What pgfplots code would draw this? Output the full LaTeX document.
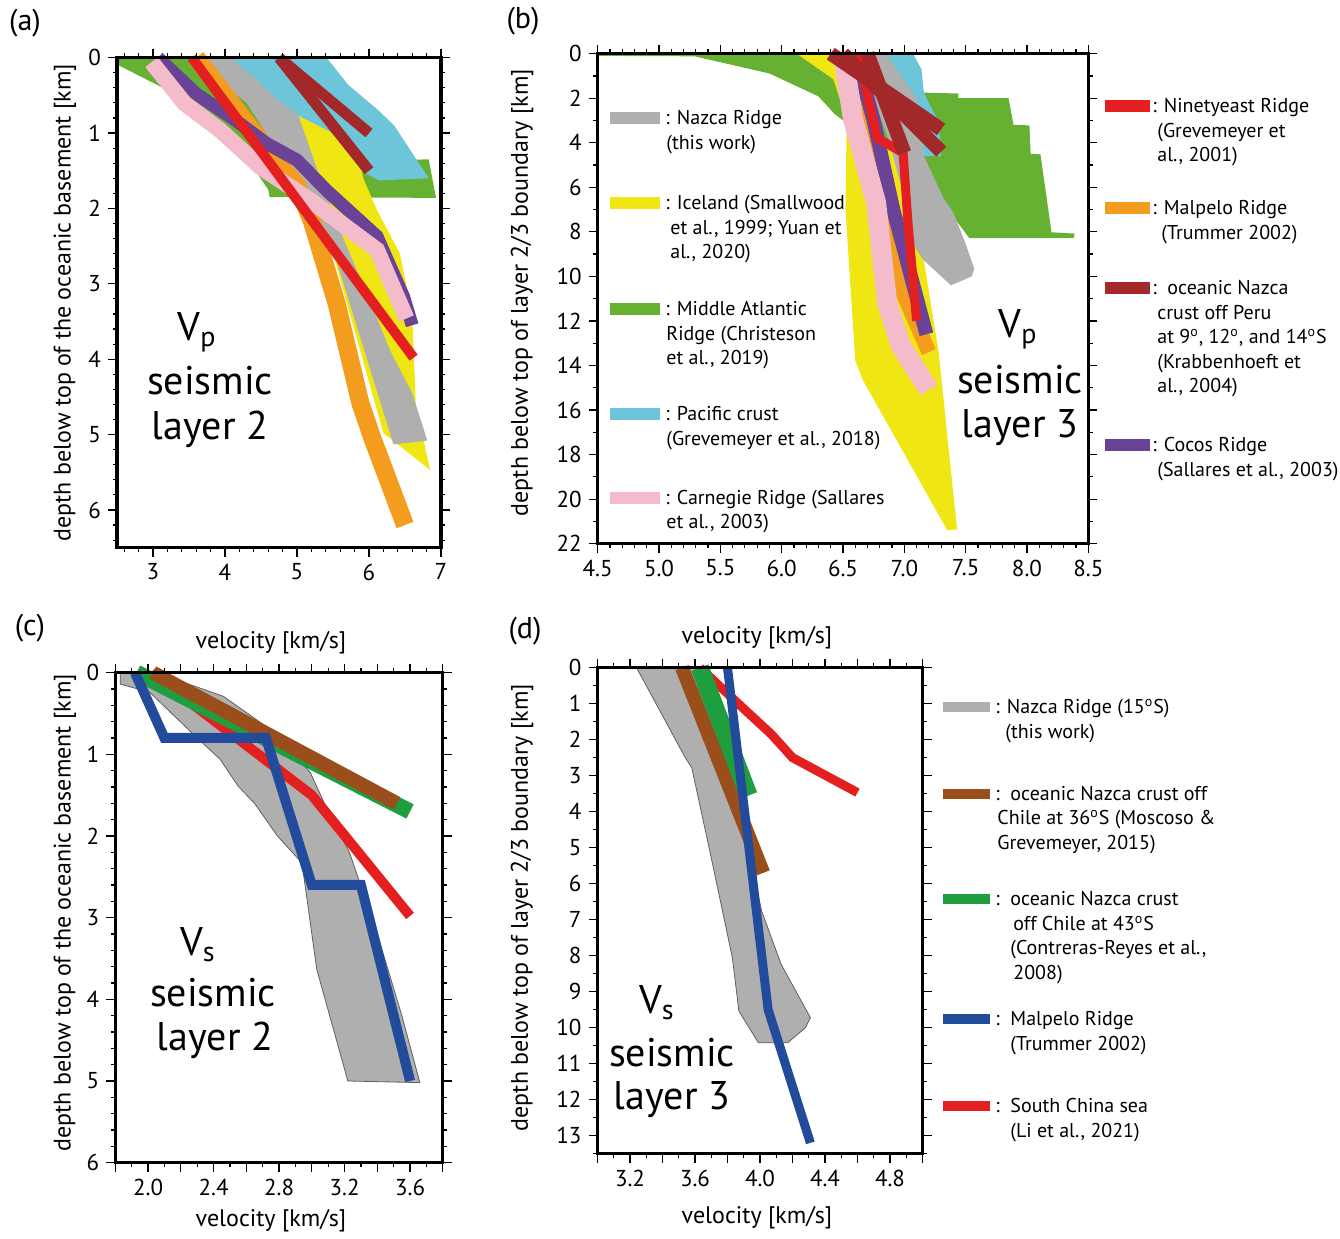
\documentclass[border=0pt]{standalone}
\usepackage{fontspec}
\setmainfont{PT Sans}
\usepackage{pgfplots}
\pgfplotsset{compat=1.18}
\definecolor{cgray}{HTML}{AFAFAF}
\definecolor{cyel}{HTML}{F0E614}
\definecolor{cgrn}{HTML}{66B032}
\definecolor{ccyan}{HTML}{6CC5D8}
\definecolor{cpink}{HTML}{F4BCCB}
\definecolor{cred}{HTML}{E3201F}
\definecolor{corg}{HTML}{F39C1E}
\definecolor{cdred}{HTML}{A2282A}
\definecolor{cpur}{HTML}{6A4397}
\definecolor{cgrn2}{HTML}{1E9E3E}
\definecolor{cbrn}{HTML}{9A4E1C}
\definecolor{cblu}{HTML}{224B9B}
\pgfplotsset{
  panel/.style={
    scale only axis, y dir=reverse, clip=false, axis on top,
    axis line style={line width=1.6pt},
    tick align=outside, major tick length=4.5pt, minor tick length=2.2pt,
    tick style={black, line width=0.6pt},
    tick label style={font=\fontsize{11.5}{12}\selectfont},
    /pgf/number format/assume math mode=true,
    anchor=north west,
  },
  band/.style={line width=#1, line cap=butt, line join=miter},
}
\newcommand\lgfont{\fontsize{10}{12}\selectfont}
\newcommand\bigfont{\fontsize{20}{24}\selectfont}
\newcommand\lt[3]{\node[anchor=base west,inner sep=0pt,font=\lgfont] at (#1,#2+7) {#3};}
\newcommand\dg{\textsuperscript{o}}
\begin{document}
\begin{tikzpicture}
% ---------------- (a)
\begin{axis}[panel, at={(58.5pt,-27.5pt)}, width=162pt, height=245pt,
  xmin=2.5, xmax=7, ymin=0, ymax=6.5,
  xtick={3,4,5,6,7}, ytick={0,1,2,3,4,5,6},
  minor xtick={2.6,2.8,3.2,3.4,3.6,3.8,4.2,4.4,4.6,4.8,5.2,5.4,5.6,5.8,6.2,6.4,6.6,6.8},
  minor ytick={0.2,0.4,0.6,0.8,1.2,1.4,1.6,1.8,2.2,2.4,2.6,2.8,3.2,3.4,3.6,3.8,4.2,4.4,4.6,4.8,5.2,5.4,5.6,5.8,6.2,6.4}]
\addplot[fill=cgrn, draw=none] coordinates {(2.5,0) (4.5,0) (5.8,1.3) (6.05,1.36) (6.83,1.35) (6.93,1.86) (4.62,1.85) (4.6,1.75) (4.1,1.05) (3.3,0.48) (2.52,0.1)} -- cycle;
\addplot[fill=cyel, draw=none] coordinates {(5.02,0.76) (5.46,0.98) (5.85,1.27) (5.92,1.6) (6.11,2.02) (6.43,2.6) (6.6,3.4) (6.65,4.6) (6.85,5.47) (6.2,4.98) (5.47,2.5) (5.2,1.8) (5.0,1.2) (4.95,0.9)} -- cycle;
\addplot[fill=ccyan, draw=none] coordinates {(4.06,0) (5.41,0) (5.71,0.36) (6.12,0.69) (6.35,0.9) (6.83,1.6) (6.14,1.63) (5.89,1.5) (5.87,1.27) (5.46,0.98) (5.02,0.77) (4.70,0.54) (4.38,0.24)} -- cycle;
\addplot[fill=cgray, draw=none] coordinates {(3.5,0) (4.06,0) (4.38,0.24) (4.70,0.54) (5.02,0.77) (5.25,1.4) (5.6,2.3) (6.0,3.2) (6.3,3.9) (6.6,4.45) (6.81,5.08) (6.34,5.13) (5.55,2.7) (5.3,2.3) (4.9,1.5) (4.3,0.6)} -- cycle;
\addplot[band=9pt, corg] coordinates {(3.6,0) (4.65,1.3) (5.0,1.7) (5.2,2.15) (5.55,3.26) (5.88,4.58) (6.04,5.03) (6.5,6.2)};
\addplot[band=6.5pt, cpur] coordinates {(3.07,0) (3.6,0.48) (4.1,0.8) (4.58,1.14) (5.0,1.36) (5.41,1.76) (6.11,2.37) (6.48,3.17) (6.6,3.55)};
\addplot[band=8pt, cpink] coordinates {(2.98,0.06) (3.44,0.61) (3.93,0.96) (4.49,1.45) (5.18,1.89) (6.11,2.55) (6.52,3.46)};
\addplot[band=5pt, cred] coordinates {(3.54,0) (6.62,3.98)};
\addplot[band=5.5pt, cdred] coordinates {(4.75,0) (6.0,1.0)};
\addplot[band=5.5pt, cdred] coordinates {(4.75,0) (6.0,1.5)};
\end{axis}
% ---------------- (b)
\begin{axis}[panel, at={(298.85pt,-25.5pt)}, width=245.3pt, height=245pt,
  xmin=4.5, xmax=8.5, ymin=0, ymax=22,
  xtick={4.5,5,5.5,6,6.5,7,7.5,8,8.5},
  xticklabels={4.5,5.0,5.5,6.0,6.5,7.0,7.5,8.0,8.5},
  minor xtick={4.6,4.7,4.8,4.9,5.1,5.2,5.3,5.4,5.6,5.7,5.8,5.9,6.1,6.2,6.3,6.4,6.6,6.7,6.8,6.9,7.1,7.2,7.3,7.4,7.6,7.7,7.8,7.9,8.1,8.2,8.3,8.4},
  ytick={0,2,4,6,8,10,12,14,16,18,20,22},
  minor ytick={1,3,5,7,9,11,13,15,17,19,21}]
\addplot[fill=cyel, draw=none] coordinates {(6.05,0) (6.5,0) (6.75,2.0) (7.0,6.0) (7.14,8.63) (7.28,13.4) (7.43,21.36) (7.35,21.4) (6.66,14.64) (6.6,13.78) (6.52,7.0) (6.53,3.0) (6.42,1.15) (6.12,0.03)} -- cycle;
\addplot[fill=cgrn, draw=none] coordinates {(4.5,0) (6.12,0) (6.42,1.15) (6.53,2.95) (6.9,1.75) (7.16,1.75) (7.44,1.79) (7.44,2.0) (7.85,2.0) (7.89,3.2) (8.02,3.22) (8.03,4.5) (8.11,4.52) (8.2,8.02) (8.39,8.08) (8.38,8.28) (7.53,8.28) (7.39,7.25) (7.3,6.48) (7.14,4.93) (6.9,4.0) (6.55,3.21) (6.43,2.7) (6.3,1.92) (5.9,0.89) (5.29,0.12) (4.5,0.1)} -- cycle;
\addplot[fill=ccyan, draw=none] coordinates {(6.8,0) (7.07,0) (7.14,0.7) (7.16,1.76) (7.24,2.65) (7.28,3.0) (7.3,4.6) (7.1,4.6) (6.9,3.0) (6.75,1.0)} -- cycle;
\addplot[fill=cgray, draw=none] coordinates {(6.68,0) (6.85,0) (7.1,2.0) (7.16,4.6) (7.32,6.5) (7.4,7.14) (7.5,8.54) (7.57,9.66) (7.55,10.0) (7.38,10.4) (7.15,9.23) (7.05,8.37) (7.0,6.5) (6.88,4.0) (6.75,2.0)} -- cycle;
\addplot[band=7.5pt, corg] coordinates {(6.6,0) (6.8,5.0) (6.97,10.5) (7.2,13.4)};
\addplot[band=7pt, cpur] coordinates {(6.6,0) (6.75,3.0) (6.91,7.0) (7.18,12.6)};
\addplot[band=10pt, cpink] coordinates {(6.5,0) (6.58,2.9) (6.77,6.7) (6.86,11.2) (6.97,13.1) (7.2,15.1)};
\addplot[band=4.5pt, cred] coordinates {(6.62,0) (6.78,3.8) (6.99,4.45) (7.03,7.6) (7.1,12.0)};
\addplot[band=7pt, cdred] coordinates {(6.4,0) (7.3,3.4)};
\addplot[band=7pt, cdred] coordinates {(6.5,0) (7.3,4.4)};
\addplot[band=7pt, cdred] coordinates {(6.7,0) (7.0,4.45)};
\end{axis}
% ---------------- (c)
\begin{axis}[panel, at={(57.65pt,-335pt)}, width=163.75pt, height=245pt,
  xmin=1.8, xmax=3.8, ymin=0, ymax=6,
  xtick={1.8,2.0,2.2,2.4,2.6,2.8,3.0,3.2,3.4,3.6,3.8},
  xticklabels={,2.0,,2.4,,2.8,,3.2,,3.6,},
  minor xtick={1.9,2.1,2.3,2.5,2.7,2.9,3.1,3.3,3.5,3.7},
  ytick={0,1,2,3,4,5,6},
  minor ytick={0.2,0.4,0.6,0.8,1.2,1.4,1.6,1.8,2.2,2.4,2.6,2.8,3.2,3.4,3.6,3.8,4.2,4.4,4.6,4.8,5.2,5.4,5.6,5.8}]
\addplot[fill=cgray, draw=gray!75!black, line width=0.4pt] coordinates {(1.83,0) (2.05,0) (2.46,0.29) (2.75,0.7) (2.99,1.22) (3.1,1.7) (3.23,2.2) (3.4,3.2) (3.55,4.2) (3.66,5.02) (3.22,5.0) (3.03,3.63) (2.94,2.33) (2.79,2.0) (2.65,1.6) (2.55,1.39) (2.44,1.06) (2.3,0.8) (2.01,0.24) (1.83,0.14)} -- cycle;
\addplot[band=5pt, cred] coordinates {(2.02,0) (3.0,1.5) (3.6,2.98)};
\addplot[band=8pt, cgrn2] coordinates {(1.93,0) (3.6,1.7)};
\addplot[band=7pt, cbrn] coordinates {(2.03,0) (3.52,1.6)};
\addplot[band=5pt, cblu] coordinates {(1.92,0) (2.1,0.8) (2.72,0.8) (3.0,2.6) (3.3,2.6) (3.6,5.0)};
\end{axis}
% ---------------- (d)
\begin{axis}[panel, at={(298.75pt,-332.5pt)}, width=162.5pt, height=243pt,
  xmin=3.0, xmax=5.0, ymin=0, ymax=13.5,
  xtick={3.0,3.2,3.4,3.6,3.8,4.0,4.2,4.4,4.6,4.8,5.0},
  xticklabels={,3.2,,3.6,,4.0,,4.4,,4.8,},
  minor xtick={3.1,3.3,3.5,3.7,3.9,4.1,4.3,4.5,4.7,4.9},
  ytick={0,1,2,3,4,5,6,7,8,9,10,11,12,13},
  minor ytick={0.5,1.5,2.5,3.5,4.5,5.5,6.5,7.5,8.5,9.5,10.5,11.5,12.5,13.5}]
\addplot[fill=cgray, draw=gray!75!black, line width=0.4pt] coordinates {(3.24,0) (3.6,0) (3.75,2.0) (3.89,4.54) (3.95,5.5) (4.01,6.76) (4.13,8.24) (4.31,9.72) (4.28,10.0) (4.17,10.42) (3.99,10.42) (3.87,9.54) (3.83,8.06) (3.7,5.28) (3.58,2.78) (3.54,2.5)} -- cycle;
\addplot[band=4.5pt, cred] coordinates {(3.63,0) (3.89,1.1) (4.07,1.85) (4.2,2.5) (4.6,3.47)};
\addplot[band=7pt, cbrn] coordinates {(3.52,0) (4.02,5.7)};
\addplot[band=9pt, cgrn2] coordinates {(3.63,0) (3.93,3.55)};
\addplot[band=4.5pt, cblu] coordinates {(3.8,0) (4.05,9.5) (4.31,13.2)};
\end{axis}
% ---------------- annotations (1 unit = 1 px of the reference)
\begin{scope}[x=0.5pt, y=-0.5pt]
\path (0,0) rectangle (1340,1232);
\node[font=\fontsize{15}{17}\selectfont] at (25,20) {(a)};
\node[font=\fontsize{15}{17}\selectfont] at (523,18) {(b)};
\node[font=\fontsize{15}{17}\selectfont] at (30,625) {(c)};
\node[font=\fontsize{15}{17}\selectfont] at (525,628) {(d)};
\node[rotate=90, font=\fontsize{12}{13}\selectfont] at (65,300) {depth below top of the oceanic basement [km]};
\node[rotate=90, font=\fontsize{12}{13}\selectfont] at (522,290) {depth below top of layer 2/3 boundary [km]};
\node[rotate=90, font=\fontsize{12}{13}\selectfont] at (65,910) {depth below top of the oceanic basement [km]};
\node[rotate=90, font=\fontsize{12}{13}\selectfont] at (522,905) {depth below top of layer 2/3 boundary [km]};
\node[font=\fontsize{12}{13}\selectfont] at (271,640) {velocity [km/s]};
\node[font=\fontsize{12}{13}\selectfont] at (271,1218) {velocity [km/s]};
\node[font=\fontsize{12}{13}\selectfont] at (757,635) {velocity [km/s]};
\node[font=\fontsize{12}{13}\selectfont] at (757,1215) {velocity [km/s]};
% big labels
\node[font=\bigfont] at (197,330) {V\textsubscript{p}};
\node[font=\bigfont] at (210,378) {seismic};
\node[font=\bigfont] at (210,427) {layer 2};
\node[font=\bigfont] at (1018,327) {V\textsubscript{p}};
\node[font=\bigfont] at (1020,377) {seismic};
\node[font=\bigfont] at (1020,425) {layer 3};
\node[font=\bigfont] at (198,942) {V\textsubscript{s}};
\node[font=\bigfont] at (213,990) {seismic};
\node[font=\bigfont] at (215,1038) {layer 2};
\node[font=\bigfont] at (657,1000) {V\textsubscript{s}};
\node[font=\bigfont] at (672,1050) {seismic};
\node[font=\bigfont] at (672,1097) {layer 3};
% legend (b) left
\fill[cgray] (610,109) rectangle (660,121);
\fill[cyel] (610,194) rectangle (660,206);
\fill[cgrn] (610,300) rectangle (660,312);
\fill[ccyan] (610,405) rectangle (660,417);
\fill[cpink] (610,489) rectangle (660,501);
\lt{665}{115}{: Nazca Ridge}
\lt{666}{140}{(this work)}
\lt{665}{200}{: Iceland (Smallwood}
\lt{670}{225}{et al., 1999; Yuan et}
\lt{670}{249}{al., 2020)}
\lt{665}{306}{: Middle Atlantic}
\lt{666}{331}{Ridge (Christeson}
\lt{666}{355}{et al., 2019)}
\lt{665}{411}{: Pacific crust}
\lt{666}{436}{(Grevemeyer et al., 2018)}
\lt{665}{495}{: Carnegie Ridge (Sallares}
\lt{666}{519}{et al., 2003)}
% legend (b) right
\fill[cred] (1105,97) rectangle (1150,109);
\fill[corg] (1105,199) rectangle (1150,211);
\fill[cdred] (1105,279) rectangle (1150,291);
\fill[cpur] (1105,436) rectangle (1150,448);
\lt{1152}{103}{: Ninetyeast Ridge}
\lt{1157}{128}{(Grevemeyer et}
\lt{1157}{152}{al., 2001)}
\lt{1152}{205}{: Malpelo Ridge}
\lt{1161}{230}{(Trummer 2002)}
\lt{1152}{285}{:\ \ oceanic Nazca}
\lt{1157}{310}{crust off Peru}
\lt{1157}{334}{at 9\dg, 12\dg, and 14\dg S}
\lt{1157}{359}{(Krabbenhoeft et}
\lt{1157}{383}{al., 2004)}
\lt{1152}{442}{: Cocos Ridge}
\lt{1157}{467}{(Sallares et al., 2003)}
% legend (d)
\fill[cgray] (943,699) rectangle (990,709);
\fill[cbrn] (943,786) rectangle (990,796);
\fill[cgrn2] (943,891) rectangle (990,901);
\fill[cblu] (943,1011) rectangle (990,1021);
\fill[cred] (943,1098) rectangle (990,1108);
\lt{995}{704}{: Nazca Ridge (15\dg S)}
\lt{1005}{729}{(this work)}
\lt{995}{791}{:\ \ oceanic Nazca crust off}
\lt{997}{815}{Chile at 36\dg S (Moscoso \&}
\lt{997}{840}{Grevemeyer, 2015)}
\lt{995}{896}{:\ \ oceanic Nazca crust}
\lt{1013}{921}{off Chile at 43\dg S}
\lt{1010}{945}{(Contreras-Reyes et al.,}
\lt{1013}{970}{2008)}
\lt{995}{1016}{:\ \ Malpelo Ridge}
\lt{1010}{1041}{(Trummer 2002)}
\lt{995}{1103}{:\ \ South China sea}
\lt{1010}{1128}{(Li et al., 2021)}
\end{scope}
\end{tikzpicture}
\end{document}
